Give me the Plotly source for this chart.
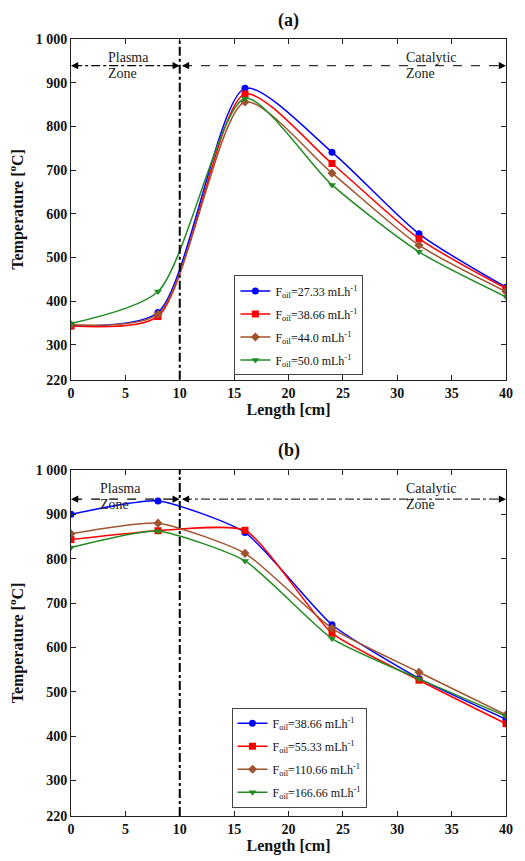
import plotly.graph_objects as go

# Axial positions of the measurement points [cm]
length_cm = [0, 8, 16, 24, 32, 40]

# Panel (a): temperature profiles for different oil feed rates [°C]
a_labels = ["27.33", "38.66", "44.0", "50.0"]
a_f2733 = [343, 374, 887, 741, 554, 432]
a_f3866 = [343, 365, 874, 715, 543, 429]
a_f4400 = [346, 370, 856, 693, 528, 422]
a_f5000 = [349, 422, 864, 666, 513, 410]

# Panel (b): temperature profiles for higher oil feed rates [°C]
b_labels = ["38.66", "55.33", "110.66", "166.66"]
b_f3866 = [900, 930, 859, 651, 530, 438]
b_f5533 = [843, 863, 864, 632, 526, 428]
b_f11066 = [856, 880, 812, 643, 544, 448]
b_f16666 = [825, 862, 795, 620, 529, 445]

y_ticks = [220, 300, 400, 500, 600, 700, 800, 900, 1000]
y_tick_text = ["220", "300", "400", "500", "600", "700", "800", "900", "1 000"]
x_ticks = [0, 5, 10, 15, 20, 25, 30, 35, 40]

colors = ["#0000ff", "#ff0000", "#a0522d", "#228b22"]
symbols = ["circle", "square", "diamond", "triangle-down"]

SERIF = "Liberation Serif"

fig = go.Figure()

panels = [
    ("x", "y", "legend", 0.7, a_labels, [a_f2733, a_f3866, a_f4400, a_f5000]),
    ("x2", "y2", "legend2", 0.55, b_labels, [b_f3866, b_f5533, b_f11066, b_f16666]),
]

for xa, ya, leg, smooth, labels, series in panels:
    for i, (lab, vals) in enumerate(zip(labels, series)):
        fig.add_trace(go.Scatter(
            x=length_cm, y=vals, xaxis=xa, yaxis=ya, legend=leg,
            legendgroup=f"{leg}-{i}",
            mode="lines+markers",
            line=dict(color=colors[i], width=1.5, shape="spline", smoothing=smooth),
            marker=dict(color=colors[i], symbol=symbols[i], size=7),
            name=f"F<sub>oil</sub>={lab} mLh<sup>-1</sup>",
        ))

axis_common = dict(
    showgrid=False, zeroline=False, showline=True,
    linecolor="#222", linewidth=1, mirror="ticks", ticks="inside",
    ticklen=5, tickcolor="#222",
    tickfont=dict(family=SERIF, size=14, color="#111"),
)

layout = dict(
    width=525, height=861,
    margin=dict(l=71, r=12, t=39, b=40),
    paper_bgcolor="white", plot_bgcolor="white",
    showlegend=True,
)

for n, dom in [("", [0.5614, 1.0]), ("2", [0.0, 0.4454])]:
    layout["xaxis" + n] = dict(
        axis_common, range=[0, 40], tickvals=x_ticks,
        ticktext=[f"<b>{v}</b>" for v in x_ticks],
        anchor="y" + n, domain=[0, 1],
        title=dict(text="<b>Length [cm]</b>", font=dict(family=SERIF, size=16, color="#111"),
                   standoff=1),
    )
    layout["yaxis" + n] = dict(
        axis_common, range=[220, 1000], tickvals=y_ticks,
        ticktext=[f"<b>{t}</b>" for t in y_tick_text],
        anchor="x" + n, domain=dom,
        title=dict(text="<b>Temperature [<sup>o</sup>C]</b>",
                   font=dict(family=SERIF, size=16, color="#111"), standoff=8),
    )

legend_style = dict(
    bgcolor="white", bordercolor="#444", borderwidth=1,
    font=dict(family=SERIF, size=12, color="#111"),
    xanchor="left", yanchor="top", tracegroupgap=4,
)
layout["legend"] = dict(legend_style, x=0.3756, y=0.6957)
layout["legend2"] = dict(legend_style, x=0.369, y=0.1394)

fig.update_layout(**layout)

# Boundary between plasma and catalytic zones
for xa, ya in [("x", "y"), ("x2", "y2")]:
    fig.add_shape(type="line", xref=xa, yref=ya, x0=10, x1=10, y0=220, y1=1000,
                  line=dict(color="black", width=2, dash="dashdot"))

# Zone arrows and labels
zone_rows = [
    ("x", "y", 939, "dashdot", "dash", 958, 921, 3.2),
    ("x2", "y2", 934, "dash", "dashdot", 959, 921, 2.5),
]
for xa, ya, yl, dash_left, dash_right, y_top, y_bot, x_plasma in zone_rows:
    fig.add_shape(type="line", xref=xa, yref=ya, x0=0.2, x1=9.8, y0=yl, y1=yl,
                  line=dict(color="black", width=1.3, dash=dash_left))
    fig.add_shape(type="line", xref=xa, yref=ya, x0=10.3, x1=39.8, y0=yl, y1=yl,
                  line=dict(color="#333", width=1.3, dash=dash_right))
    for xe, ax in [(0, 9), (10, -9), (10.2, 9), (40, -9)]:
        fig.add_annotation(xref=xa, yref=ya, x=xe, y=yl, ax=ax, ay=0, text="",
                           showarrow=True, arrowhead=2, arrowsize=1.2,
                           arrowwidth=1.2, arrowcolor="black")
    for txt, xt, yt in [("Plasma", x_plasma, y_top), ("Zone", x_plasma, y_bot),
                        ("Catalytic", 30.6, y_top), ("Zone", 30.6, y_bot)]:
        fig.add_annotation(xref=xa, yref=ya, x=xt, y=yt, text=txt, showarrow=False,
                           xanchor="left", yanchor="middle",
                           font=dict(family=SERIF, size=14, color="#222"))

# Panel titles
for txt, yp in [("<b>(a)</b>", 20), ("<b>(b)</b>", 453)]:
    fig.add_annotation(xref="paper", yref="paper", x=0.5, y=(821 - yp) / 782,
                       text=txt, showarrow=False, xanchor="center", yanchor="middle",
                       font=dict(family=SERIF, size=18, color="#111"))

fig.write_html("out.html")
